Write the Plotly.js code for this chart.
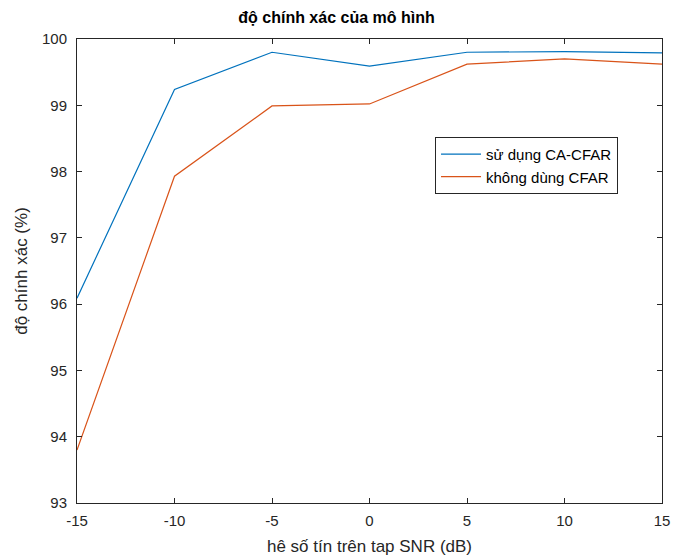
<!DOCTYPE html>
<html>
<head>
<meta charset="utf-8">
<script src="https://cdn.plot.ly/plotly-3.0.1.min.js"></script>
<style>html,body{margin:0;padding:0;background:#fff;}#chart{width:673px;height:558px;}</style>
</head>
<body>
<div id="chart"></div>
<script>
const snr = [-15, -10, -5, 0, 5, 10, 15];
const caCfar = [96.09, 99.24, 99.80, 99.59, 99.80, 99.81, 99.79];
const noCfar = [93.80, 97.93, 98.99, 99.02, 99.62, 99.70, 99.62];
const seriesNames = ["sử dụng CA-CFAR", "không dùng CFAR"];
const xTicks = [-15, -10, -5, 0, 5, 10, 15];
const yTicks = [93, 94, 95, 96, 97, 98, 99, 100];

const font = "Liberation Sans, Arial, Helvetica, sans-serif";
const traces = [
  {x: snr, y: caCfar, name: seriesNames[0], mode: "lines", line: {color: "#0072BD", width: 1.2}},
  {x: snr, y: noCfar, name: seriesNames[1], mode: "lines", line: {color: "#D95319", width: 1.2}}
];
const axisCommon = {
  showline: true, linecolor: "#262626", linewidth: 1, mirror: "ticks",
  ticks: "inside", ticklen: 5, tickcolor: "#262626", showgrid: false, zeroline: false,
  tickfont: {family: font, size: 15, color: "#262626"}
};
const layout = {
  width: 673, height: 558,
  margin: {l: 77, r: 11, t: 39, b: 55},
  paper_bgcolor: "#fff", plot_bgcolor: "#fff",
  title: {text: "<b>độ chính xác của mô hình</b>", font: {family: font, size: 16, color: "#000"}, x: 0.5, xanchor: "center", y: 0.978, yanchor: "top"},
  xaxis: Object.assign({}, axisCommon, {range: [-15, 15], tickvals: xTicks, ticktext: xTicks.map(String), ticklabelstandoff: 4,
    title: {text: "hê số tín trên tap SNR (dB)", font: {family: font, size: 17, color: "#262626"}, standoff: 12}}),
  yaxis: Object.assign({}, axisCommon, {range: [93, 100], tickvals: yTicks, ticktext: yTicks.map(String), ticklabelstandoff: 6,
    title: {text: "độ chính xác (%)", font: {family: font, size: 17, color: "#262626"}, standoff: 10}}),
  showlegend: true,
  legend: {x: 0.612, y: 0.789, xanchor: "left", yanchor: "top", bordercolor: "#262626", borderwidth: 1,
    bgcolor: "#fff", font: {family: font, size: 15, color: "#000"}, tracegroupgap: 0, itemwidth: 40}
};
Plotly.newPlot("chart", traces, layout, {displayModeBar: false, staticPlot: true});
</script>
</body>
</html>
